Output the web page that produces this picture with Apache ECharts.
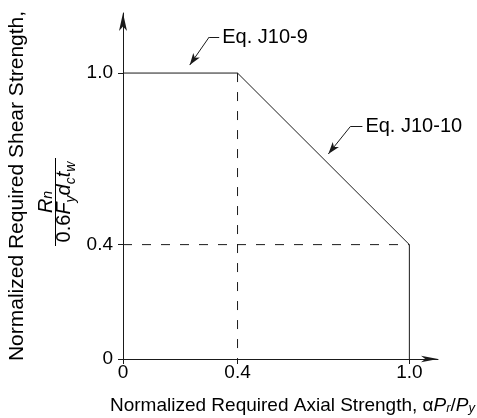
<!DOCTYPE html>
<html>
<head>
<meta charset="utf-8">
<script src="https://cdn.jsdelivr.net/npm/echarts@6/dist/echarts.min.js"></script>
<style>
    html, body { margin: 0; padding: 0; background: #fff; }
    #chart { width: 477px; height: 418px; }
</style>
</head>
<body>
<div id="chart"></div>
<script>
// 数据
const limitX = [0, 0.4, 1.0, 1.0];
const limitY = [1.0, 1.0, 0.4, 0];
const guideVX = [0.4, 0.4];
const guideVY = [1.0, 0];
const guideHX = [0, 1.0];
const guideHY = [0.4, 0.4];

const xTicks = [0, 0.4, 1.0];
const xTickText = ['0', '0.4', '1.0'];
const yTicks = [0, 0.4, 1.0];
const yTickText = ['0', '0.4', '1.0'];

// 注释 (数据坐标)
const eqLabels = ['Eq. J10-9', 'Eq. J10-10'];
const eqBend = [[0.301, 1.126], [0.794, 0.813]];
const eqTextStart = [[0.336, 1.126], [0.836, 0.813]];
const eqArrow = [[0.233, 1.028], [0.717, 0.717]];

const FONT = 'Liberation Sans';
const INK = '#000';
const LINE = '#1a1a1a';
const FS = 19;

const $chart = document.getElementById('chart');
const chart = echarts.init($chart, null, {renderer: 'canvas'});

function zip(xs, ys) {
    return xs.map((x, i) => [x, ys[i]]);
}

function tickFormatter(ticks, texts) {
    return v => {
        const i = ticks.findIndex(t => Math.abs(t - v) < 1e-9);
        return i < 0 ? '' : texts[i];
    };
}

// 引线
const leaderData = [];
eqLabels.forEach((text, i) => {
    leaderData.push([
        {coord: eqBend[i], symbol: 'none'},
        {coord: eqArrow[i], symbol: 'arrow'}
    ]);
    leaderData.push([
        {
            coord: eqBend[i], symbol: 'none',
            label: {
                show: true, position: 'end', formatter: text, distance: 3,
                color: INK, fontSize: 20, fontFamily: FONT
            }
        },
        {coord: eqTextStart[i], symbol: 'none'}
    ]);
});

const baseText = {color: INK, fontSize: FS, fontFamily: FONT};
const italic = Object.assign({}, baseText, {fontStyle: 'italic'});
const sub = Object.assign({}, baseText, {fontStyle: 'italic', fontSize: 13, verticalAlign: 'bottom', lineHeight: 12});

function axisCfg(extra) {
    return Object.assign({
        type: 'value',
        min: 0,
        interval: 0.2,
        splitLine: {show: false},
        nameLocation: 'middle',
        nameMoveOverlap: false
    }, extra);
}

chart.setOption({
    animation: false,
    backgroundColor: '#fff',
    grid: {
        left: 123, right: 39, top: 13, bottom: 59,
        containLabel: false, outerBoundsMode: 'none'
    },
    xAxis: axisCfg({
        max: 1.1,
        axisLine: {
            show: true, onZero: false,
            symbol: ['none', 'arrow'], symbolSize: [5, 17],
            lineStyle: {color: LINE, width: 1}
        },
        axisTick: {show: true, length: 5, customValues: xTicks, lineStyle: {color: LINE}},
        axisLabel: {
            customValues: xTicks,
            formatter: tickFormatter(xTicks, xTickText),
            margin: 4, color: INK, fontSize: FS, fontFamily: FONT
        },
        name: '{t|Normalized Required Axial Strength, α}{it|P}{sub|r}{n|/}{it|P}{sub|y}',
        nameGap: 37,
        nameTextStyle: {
            rich: {
                t: Object.assign({}, baseText, {padding: [0, 0, 0, 24]}),
                n: baseText,
                it: italic,
                sub: sub
            }
        }
    }),
    yAxis: axisCfg({
        max: 1.21,
        axisLine: {
            show: true, onZero: false,
            symbol: ['none', 'arrow'], symbolSize: [6, 18],
            lineStyle: {color: LINE, width: 1}
        },
        axisTick: {show: true, length: 5, customValues: yTicks, lineStyle: {color: LINE}},
        axisLabel: {
            customValues: yTicks,
            formatter: tickFormatter(yTicks, yTickText),
            margin: 10, color: INK, fontSize: FS, fontFamily: FONT
        },
        name: '{t|Normalized Required Shear Strength,}\n' +
            '{it|R}{nsub|n}{sp| }\n' +
            '{bar| }{sp| }\n' +
            '{n|0.6}{it2|F}{dsub|y}{it2|d}{dsub|c}{it2|t}{dsub|w}{sp| }',
        nameGap: 51,
        nameTextStyle: {
            rich: {
                t: Object.assign({}, baseText, {fontSize: 21, lineHeight: 36}),
                it: Object.assign({}, italic, {fontSize: 20, lineHeight: 20, padding: [3, 0, 0, 0]}),
                nsub: Object.assign({}, sub, {fontSize: 14, lineHeight: 12}),
                bar: {width: 88, height: 1, lineHeight: 1, backgroundColor: INK},
                n: Object.assign({}, baseText, {fontSize: 20, lineHeight: 16}),
                it2: Object.assign({}, italic, {fontSize: 20, lineHeight: 16}),
                dsub: Object.assign({}, sub, {fontSize: 14, verticalAlign: 'top', lineHeight: 10, padding: [8, 0, 0, 0]}),
                sp: {width: 32, fontSize: 10, lineHeight: 1}
            }
        }
    }),
    series: [
        {
            type: 'line',
            data: zip(limitX, limitY),
            symbol: 'none',
            lineStyle: {color: LINE, width: 1},
            z: 3,
            markLine: {
                silent: true,
                animation: false,
                symbol: ['none', 'none'],
                symbolSize: [6, 12],
                lineStyle: {color: LINE, width: 1, type: 'solid'},
                label: {show: false},
                emphasis: {disabled: true},
                data: leaderData
            }
        },
        {
            type: 'line',
            data: zip(guideVX, guideVY),
            symbol: 'none',
            lineStyle: {color: LINE, width: 1, type: [9, 10]}
        },
        {
            type: 'line',
            data: zip(guideHX, guideHY),
            symbol: 'none',
            lineStyle: {color: LINE, width: 1, type: [9, 10]}
        }
    ]
});
</script>
</body>
</html>
